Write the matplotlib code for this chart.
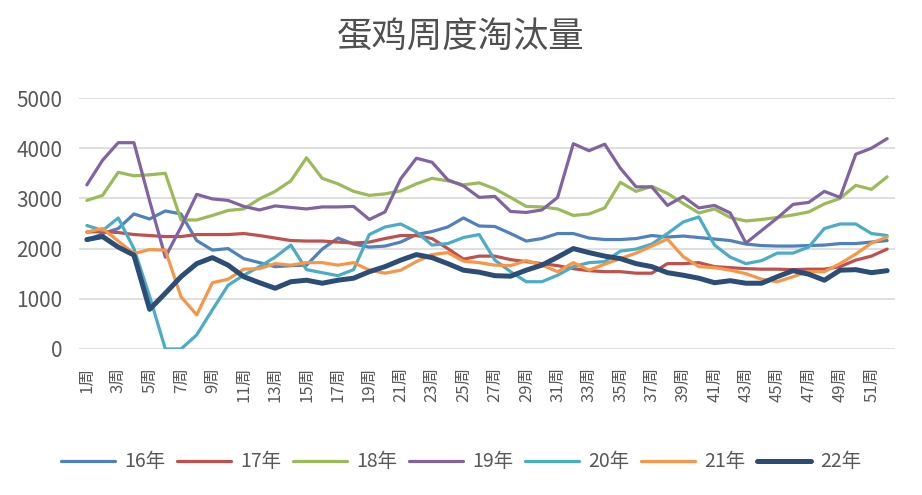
import matplotlib
matplotlib.use("Agg")
import matplotlib.pyplot as plt

plt.rcParams['font.family'] = ['Noto Sans CJK SC', 'DejaVu Sans']

weeks = list(range(1, 53))
week_labels = [str(w) + "周" for w in weeks]
series_names = ["16年", "17年", "18年", "19年", "20年", "21年", "22年"]

y16 = [2160, 2300, 2400, 2690, 2590, 2750, 2690, 2160, 1970, 2000,
       1800, 1720, 1640, 1660, 1670, 1990, 2210, 2090, 2030, 2050,
       2130, 2280, 2340, 2430, 2610, 2450, 2440, 2300, 2150, 2200,
       2300, 2300, 2210, 2180, 2180, 2200, 2260, 2230, 2250, 2220,
       2190, 2160, 2090, 2060, 2050, 2050, 2060, 2070, 2100, 2100,
       2130, 2160]
y17 = [2330, 2340, 2320, 2280, 2260, 2240, 2240, 2280, 2280, 2280,
       2300, 2260, 2210, 2160, 2150, 2150, 2130, 2110, 2130, 2200,
       2260, 2260, 2200, 2000, 1790, 1850, 1850, 1780, 1740, 1700,
       1660, 1600, 1560, 1540, 1540, 1510, 1510, 1700, 1700, 1720,
       1640, 1620, 1600, 1590, 1590, 1580, 1590, 1590, 1640, 1770,
       1850, 1990]
y18 = [2960, 3060, 3520, 3450, 3470, 3500, 2570, 2570, 2660, 2760,
       2790, 2990, 3140, 3350, 3810, 3400, 3290, 3140, 3060, 3090,
       3150, 3290, 3400, 3350, 3270, 3310, 3190, 3020, 2840, 2830,
       2790, 2660, 2690, 2810, 3320, 3140, 3240, 3100, 2900, 2710,
       2790, 2620, 2550, 2580, 2620, 2670, 2730, 2890, 3000, 3260,
       3180, 3430]
y19 = [3270, 3760, 4110, 4110, 2950, 1830, 2430, 3080, 2990, 2960,
       2840, 2770, 2850, 2820, 2790, 2830, 2830, 2840, 2580, 2730,
       3390, 3800, 3720, 3370, 3250, 3020, 3040, 2740, 2720, 2770,
       3020, 4090, 3950, 4080, 3600, 3230, 3230, 2860, 3040, 2810,
       2860, 2710, 2110, 2360, 2610, 2880, 2920, 3140, 3020, 3880,
       4000, 4190]
y20 = [2460, 2360, 2610, 2000, 1050, 0, 0, 280, 780, 1270,
       1470, 1640, 1830, 2070, 1580, 1520, 1460, 1580, 2280, 2430,
       2490, 2330, 2070, 2100, 2220, 2280, 1770, 1540, 1340, 1340,
       1470, 1640, 1720, 1740, 1950, 1990, 2090, 2300, 2530, 2630,
       2070, 1830, 1700, 1760, 1910, 1910, 2030, 2400, 2490, 2490,
       2300, 2260]
y21 = [2330, 2400, 2150, 1900, 1980, 1970, 1040, 680, 1320, 1390,
       1590, 1600, 1700, 1670, 1720, 1720, 1670, 1720, 1570, 1510,
       1570, 1740, 1880, 1920, 1750, 1720, 1670, 1660, 1760, 1670,
       1540, 1720, 1570, 1690, 1800, 1910, 2050, 2190, 1840, 1640,
       1620, 1570, 1500, 1390, 1340, 1440, 1540, 1540, 1700, 1890,
       2110, 2230]
y22 = [2180, 2240, 2030, 1870, 790, 1110, 1440, 1700, 1820, 1670,
       1440, 1320, 1210, 1340, 1370, 1310, 1370, 1410, 1540, 1640,
       1770, 1880, 1820, 1700, 1570, 1530, 1460, 1450, 1570, 1670,
       1830, 2000, 1920, 1850, 1800, 1700, 1640, 1520, 1470, 1410,
       1320, 1360, 1310, 1310, 1440, 1560, 1490, 1370, 1570, 1580,
       1520, 1560]

colors = ["#4F81BD", "#C0504D", "#9BBB59", "#8064A2", "#4BACC6", "#F79646", "#2C4D75"]
widths = [2.3, 2.3, 2.3, 2.3, 2.3, 2.3, 3.6]
all_y = [y16, y17, y18, y19, y20, y21, y22]

fig = plt.figure(figsize=(9.22, 4.95), dpi=100)
ax = fig.add_axes([0.0857, 0.295, 0.885, 0.507])

for name, ys, c, lw in zip(series_names, all_y, colors, widths):
    ax.plot(weeks, ys, color=c, linewidth=lw, label=name,
            solid_joinstyle='round', solid_capstyle='round')

ax.set_xlim(0.5, 52.5)
ax.set_ylim(0, 5000)
ax.set_yticks([0, 1000, 2000, 3000, 4000, 5000])
ax.set_xticks(weeks[::2])
ax.set_xticklabels(week_labels[::2], rotation=90, fontsize=12, color="#595959")
ax.tick_params(axis='y', length=0, pad=12, labelsize=15, labelcolor="#595959")
ax.tick_params(axis='x', length=0, pad=13)
ax.yaxis.grid(True, color="#D9D9D9", linewidth=1.2)
ax.set_axisbelow(True)
for s in ax.spines.values():
    s.set_visible(False)

fig.text(0.5, 0.925, "蛋鸡周度淘汰量", ha='center', va='center',
         fontsize=25.5, color="#505050")

fig.legend(loc='center', bbox_to_anchor=(0.5, 0.067), ncol=7, frameon=False,
           fontsize=14, handlelength=2.8, handletextpad=0.45, columnspacing=0.6,
           labelcolor="#595959")

fig.savefig("out.png", dpi=100)
